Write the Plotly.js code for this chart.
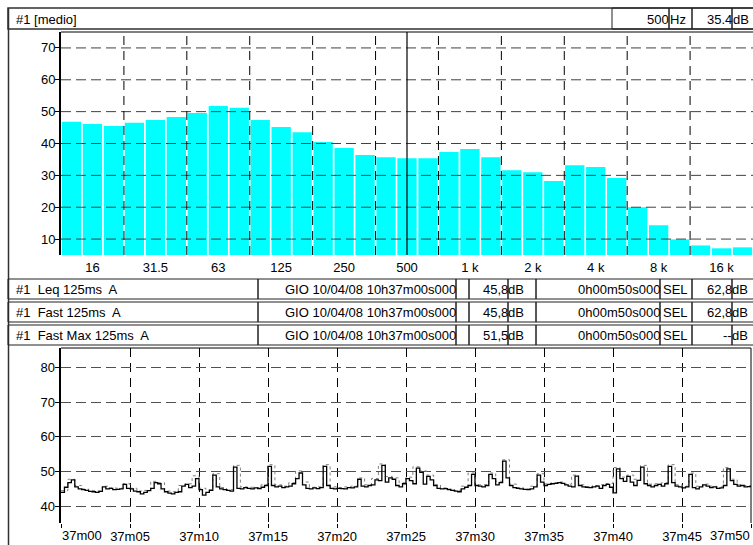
<!DOCTYPE html>
<html>
<head>
<meta charset="utf-8">
<script src="https://cdn.plot.ly/plotly-3.0.1.min.js"></script>
<style>
  html, body { margin: 0; padding: 0; background: #fff; }
  #chart { width: 753px; height: 545px; }
</style>
</head>
<body>
<div id="chart"></div>
<script>
// ---------------- DATA ----------------
const headerLabel = "#1 [medio]";
const bandLabels = ["12.5","16","20","25","31.5","40","50","63","80","100","125","160","200","250","315","400","500","630","800","1 k","1.25 k","1.6 k","2 k","2.5 k","3.15 k","4 k","5 k","6.3 k","8 k","10 k","12.5 k","16 k","20 k"];
const bandLevels = [46.8,46.1,45.5,46.5,47.4,48.3,49.6,51.8,51.2,47.4,45.2,43.5,40.5,38.6,36.4,35.7,35.4,35.4,37.3,38.3,35.7,31.6,31.0,28.2,33.2,32.6,29.2,20.0,14.3,9.9,8.0,7.1,7.4];
const bandTickLabels = ["16","31.5","63","125","250","500","1 k","2 k","4 k","8 k","16 k"];
const spectrumYTicks = [10,20,30,40,50,60,70];
const cursorBand = "500";

const rowLabels = ["#1  Leq 125ms  A", "#1  Fast 125ms  A", "#1  Fast Max 125ms  A"];
const rowStart = ["GIO 10/04/08 10h37m00s000", "GIO 10/04/08 10h37m00s000", "GIO 10/04/08 10h37m00s000"];
const rowLevel = ["45,8", "45,8", "51,5"];
const rowDuration = ["0h00m50s000", "0h00m50s000", "0h00m50s000"];
const rowSEL = ["62,8", "62,8", "--"];

// time history, Fast 125ms A, one value every 0.25 s from 37m00 to 37m50
const fastLevels = [
  44.0,45.5,46.8,47.6, 45.6,45.0,44.8,44.6, 44.3,44.2,44.0,44.3, 45.6,45.0,45.2,44.8,
  44.9,45.0,46.3,45.2, 45.0,44.4,44.2,43.6, 44.0,44.5,45.2,46.8, 46.5,45.0,44.2,43.8,
  43.6,44.0,44.2,45.8, 46.3,45.4,45.8,48.0, 44.8,43.2,44.0,44.6, 49.0,45.6,45.0,44.8,
  44.6,44.4,51.3,45.2, 45.0,45.4,45.2,45.0, 45.3,45.1,45.5,46.0, 51.5,46.0,45.6,45.8,
  45.4,45.6,45.8,46.5, 48.0,49.6,46.2,45.2, 45.0,45.3,45.1,45.4, 51.5,46.0,45.2,45.0,
  45.2,45.1,45.0,45.4, 45.3,45.6,47.8,45.8, 45.6,46.0,46.2,47.6, 47.4,51.8,47.0,48.2,
  47.8,46.0,45.6,46.5, 48.0,47.4,46.5,51.0, 49.8,46.4,48.6,47.6, 46.0,45.2,45.0,45.1,
  44.8,44.6,44.4,44.2, 45.0,45.5,46.0,49.2, 46.0,45.8,45.6,46.0, 49.2,48.0,46.2,46.8,
  53.0,48.2,46.0,45.4, 45.2,45.0,44.9,44.8, 45.0,45.6,49.0,47.0, 46.0,46.3,46.5,46.6,
  46.8,46.6,46.2,45.8, 45.6,48.7,46.0,45.6, 45.5,45.4,45.6,45.8, 45.2,46.0,46.3,45.5,
  43.9,50.8,48.0,47.2, 48.6,47.0,46.0,47.5, 51.3,46.5,46.0,45.6, 46.0,46.3,45.8,46.5,
  51.5,46.8,45.8,45.6, 45.3,45.6,49.2,45.4, 45.0,45.6,46.2,45.8, 45.4,45.6,45.2,45.3,
  46.0,50.8,47.4,46.3, 45.8,46.0,45.6,45.7, 45.5
];
// time history, Fast Max, one value every 0.5 s
const maxLevels = [
  44.5,47.8,46.0,45.0,44.5,44.4,45.8,45.3,45.2,46.5,
  45.2,44.4,44.6,47.2,46.8,44.4,44.2,46.0,46.5,48.8,
  45.2,44.8,49.4,45.4,44.8,51.8,45.6,45.5,45.4,46.2,
  52.0,46.2,45.8,46.8,50.2,47.0,45.5,45.6,52.0,45.6,
  45.4,45.6,45.8,48.2,46.2,48.0,52.2,48.6,48.2,46.8,
  48.4,51.4,50.2,49.0,46.2,45.3,45.0,44.6,45.8,49.6,
  46.2,46.2,49.6,47.2,53.4,46.4,45.4,45.0,45.8,49.4,
  46.5,46.8,47.0,46.4,49.0,46.2,45.6,46.0,46.2,46.6,
  51.2,48.4,49.0,47.8,51.8,46.4,46.5,46.8,52.0,46.2,
  45.8,49.6,45.8,46.4,45.8,45.6,51.2,47.8,46.2,46.0,
  45.8
];
const timeTickVals = [0,5,10,15,20,25,30,35,40,45,50];
const timeTickText = ["37m00","37m05","37m10","37m15","37m20","37m25","37m30","37m35","37m40","37m45","37m50"];
const timeYTicks = [40,50,60,70,80];

// ---------------- LAYOUT HELPERS ----------------
const W = 753, H = 545;
const FONT = "Liberation Sans, Arial, sans-serif";
const FS = 13;
const px = v => v / W;
const py = v => 1 - v / H;

const shapes = [];
const annotations = [];

function rect(x0, y0, x1, y1, color, width) {
  shapes.push({type: 'rect', xref: 'paper', yref: 'paper', x0: px(x0), x1: px(x1), y0: py(y1), y1: py(y0),
    line: {color: color || '#202020', width: width || 1}, fillcolor: 'rgba(0,0,0,0)', layer: 'above'});
}
function vline(x, y0, y1, color, width) {
  shapes.push({type: 'line', xref: 'paper', yref: 'paper', x0: px(x), x1: px(x), y0: py(y0), y1: py(y1),
    line: {color: color || '#202020', width: width || 1}, layer: 'above'});
}
function text(t, x, y, anchor) {
  annotations.push({text: t, xref: 'paper', yref: 'paper', x: px(x), y: py(y), xanchor: anchor || 'left',
    yanchor: 'middle', showarrow: false, font: {family: FONT, size: FS, color: '#000'}, borderpad: 0});
}

// Outer frame + header
rect(8, 8, 760, 29, '#303030', 1.5);
vline(8.5, 8, 545, '#303030', 1.5);
text(headerLabel, 15, 19, 'left');
const cursorIndex = bandLabels.indexOf(cursorBand);
rect(612, 8, 669, 29); rect(669, 8, 692, 29); rect(692, 8, 732, 29); rect(732, 8, 760, 29);
text(cursorBand, 670, 19, 'right');
text("Hz", 669, 19, 'left');
text(bandLevels[cursorIndex].toFixed(1), 733, 19, 'right');
text("dB", 732, 19, 'left');

// Table rows
const rowTop = [279, 302, 325];
const rowBottom = [299, 322, 345];
const cellEdges = [8, 258, 456, 469, 508, 536, 660, 692, 732, 760];
for (let r = 0; r < rowLabels.length; r++) {
  for (let c = 0; c < cellEdges.length - 1; c++) {
    rect(cellEdges[c], rowTop[r], cellEdges[c + 1], rowBottom[r]);
  }
  const cy = (rowTop[r] + rowBottom[r]) / 2;
  text(rowLabels[r], 15, cy, 'left');
  text(rowStart[r], 457, cy, 'right');
  text(rowLevel[r], 509, cy, 'right');
  text("dB", 507, cy, 'left');
  text(rowDuration[r], 661, cy, 'right');
  text("SEL", 662, cy, 'left');
  text(rowSEL[r], 733, cy, 'right');
  text("dB", 731, cy, 'left');
}

// spectrum gridlines (dashed, drawn over bars)
const GRID_DASH = '10px,5px';
spectrumYTicks.forEach(v => shapes.push({type: 'line', xref: 'x domain', yref: 'y', x0: 0, x1: 1, y0: v, y1: v,
  line: {color: '#404040', width: 1, dash: GRID_DASH}, layer: 'above'}));
for (let e = 2.5; e < bandLabels.length - 1; e += 3) {
  shapes.push({type: 'line', xref: 'x', yref: 'y domain', x0: e, x1: e, y0: 0, y1: 1,
    line: {color: '#000', width: 1, dash: '9px,6px'}, layer: 'above'});
}
// spectrum top border
shapes.push({type: 'line', xref: 'x domain', yref: 'y domain', x0: 0, x1: 1, y0: 1, y1: 1, line: {color: '#000', width: 1}, layer: 'above'});
// cursor line
shapes.push({type: 'line', xref: 'x', yref: 'y domain', x0: cursorIndex, x1: cursorIndex, y0: 0, y1: 1,
  line: {color: '#000', width: 1.2}, layer: 'above'});
// time chart borders
shapes.push({type: 'line', xref: 'x2 domain', yref: 'y2 domain', x0: 0, x1: 1, y0: 1, y1: 1, line: {color: '#000', width: 1}, layer: 'above'});
shapes.push({type: 'line', xref: 'x2 domain', yref: 'y2 domain', x0: 1, x1: 1, y0: 0, y1: 1, line: {color: '#000', width: 1}, layer: 'above'});
// edge time labels, kept inside the chart like the original
const TIME_LABEL_Y = 535;
annotations.push({text: timeTickText[0], xref: 'x2', yref: 'paper', x: timeTickVals[0], y: py(TIME_LABEL_Y), xanchor: 'left',
  yanchor: 'middle', showarrow: false, font: {family: FONT, size: FS, color: '#000'}, borderpad: 0});
annotations.push({text: timeTickText[timeTickText.length - 1], xref: 'x2', yref: 'paper', x: timeTickVals[timeTickVals.length - 1],
  y: py(TIME_LABEL_Y), xanchor: 'right', yanchor: 'middle', showarrow: false, font: {family: FONT, size: FS, color: '#000'}, borderpad: 0});
const innerTimeText = timeTickText.map((t, i) => (i === 0 || i === timeTickText.length - 1) ? '' : t);

const traces = [
  {type: 'bar', x: bandLabels, y: bandLevels, xaxis: 'x', yaxis: 'y',
   marker: {color: '#00FFFF', line: {width: 0}}, hoverinfo: 'skip'},
  {type: 'scatter', mode: 'lines', x0: 0, dx: 0.5, y: maxLevels, xaxis: 'x2', yaxis: 'y2',
   line: {color: '#808080', width: 1, dash: 'dot', shape: 'hv'}, hoverinfo: 'skip'},
  {type: 'scatter', mode: 'lines', x0: 0, dx: 0.25, y: fastLevels, xaxis: 'x2', yaxis: 'y2',
   line: {color: '#000', width: 1.3, shape: 'hv'}, hoverinfo: 'skip'}
];

const tickFont = {family: FONT, size: FS, color: '#000'};
const layout = {
  width: W, height: H,
  margin: {l: 0, r: 0, t: 0, b: 0},
  paper_bgcolor: '#fff', plot_bgcolor: '#fff',
  showlegend: false,
  bargap: 0.08,
  font: {family: FONT, size: FS, color: '#000'},
  xaxis: {domain: [px(61), 1], type: 'category', range: [-0.5, bandLabels.length - 0.5],
    tickvals: bandTickLabels, ticktext: bandTickLabels, ticks: '', showgrid: false, zeroline: false,
    showline: false, tickfont: tickFont, fixedrange: true, anchor: 'y', ticklabelstandoff: 3},
  yaxis: {domain: [py(255), py(32)], range: [5, 75], tickvals: spectrumYTicks, ticks: 'outside', ticklen: 4,
    tickcolor: '#000', showgrid: false, zeroline: false, showline: true, linecolor: '#000', linewidth: 2,
    tickfont: tickFont, anchor: 'x', ticklabelstandoff: -3},
  xaxis2: {domain: [px(61), px(751)], range: [0, 50], tickvals: timeTickVals, ticktext: innerTimeText,
    ticks: 'outside', ticklen: 4, tickcolor: '#000', showgrid: true, gridcolor: '#000', griddash: '9px,6px',
    gridwidth: 1, zeroline: false, showline: false, tickfont: tickFont, anchor: 'y2', ticklabelstandoff: -3},
  yaxis2: {domain: [py(523), py(348)], range: [35.2, 85.6], tickvals: timeYTicks, ticks: 'outside', ticklen: 4,
    tickcolor: '#000', showgrid: true, gridcolor: '#505050', griddash: GRID_DASH, gridwidth: 1,
    zeroline: false, showline: true, linecolor: '#000', linewidth: 2.5, tickfont: tickFont, anchor: 'x2',
    ticklabelstandoff: -3},
  shapes: shapes,
  annotations: annotations
};

Plotly.newPlot('chart', traces, layout, {displayModeBar: false, staticPlot: true});
</script>
</body>
</html>
